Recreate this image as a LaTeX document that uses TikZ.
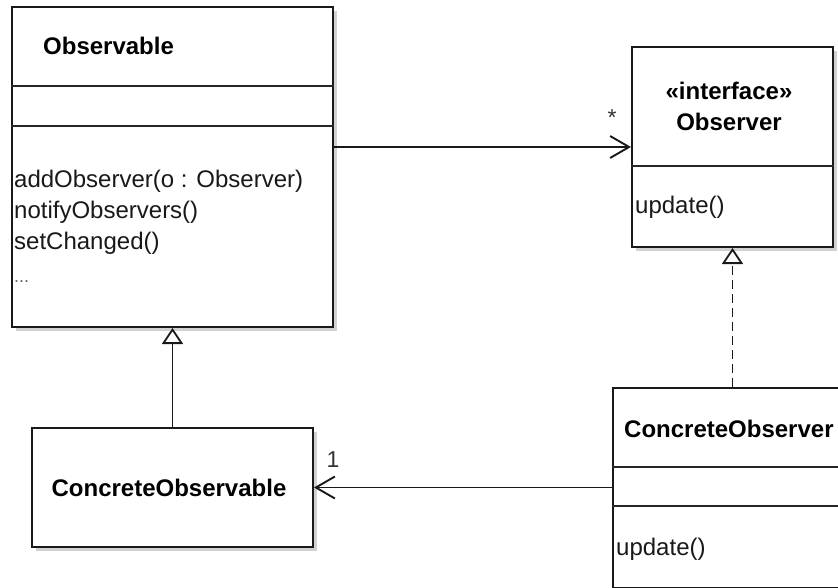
\documentclass[tikz,border=0pt]{standalone}
\usepackage{fontspec}
\setmainfont{Liberation Sans}
\usetikzlibrary{arrows.meta,shadows}
\begin{document}
\begin{tikzpicture}[x=1pt,y=-1pt,
  cls/.style={draw=black!90, line width=2pt, fill=white, inner sep=0pt, anchor=north west,
    drop shadow={shadow xshift=4pt, shadow yshift=-4pt, fill=black!18, opacity=1}},
  sep/.style={draw=black!85, line width=1.8pt},
  title/.style={font=\fontsize{24}{29}\selectfont\bfseries, text=black, inner sep=0pt},
  member/.style={font=\fontsize{24}{29}\selectfont, text=black!90, inner sep=0pt, anchor=base west},
  assoc/.style={draw=black!90, line width=1.9pt, -{Straight Barb[length=19pt,width=22pt,line width=1.9pt]}},
  gen/.style={draw=black!90, line width=1.8pt, -{Triangle[open,length=16pt,width=21pt,fill=white,line width=1.8pt]}},
  real/.style={gen, dash pattern=on 9pt off 5pt},
  mult/.style={font=\fontsize{23}{27}\selectfont, text=black!80, inner sep=0pt}
]
\clip (0,0) rectangle (838,588);
\useasboundingbox (0,0) rectangle (838,588);

% classes
\node[cls, minimum width=321pt, minimum height=320pt] (observable) at (11,6) {};
\node[cls, minimum width=201pt, minimum height=200pt] (observer) at (631,46) {};
\node[cls, minimum width=281pt, minimum height=119pt] (cobs) at (31,427) {};
\node[cls, minimum width=240pt, minimum height=200pt] (cobsr) at (612,387) {};

% compartments
\draw[sep] (observable.west |- 0,86) -- (observable.east |- 0,86);
\draw[sep] (observable.west |- 0,126) -- (observable.east |- 0,126);
\draw[sep] (observer.west |- 0,166) -- (observer.east |- 0,166);
\draw[sep] (cobsr.west |- 0,467) -- (cobsr.east |- 0,467);
\draw[sep] (cobsr.west |- 0,506) -- (cobsr.east |- 0,506);

% texts
\node[title, anchor=base west] (tobservable) at (43,55) {Observable};
\node[member] (m1) at (14,188) {addObserver(o : Observer)};
\node[member] (m2) at (14,219) {notifyObservers()};
\node[member] (m3) at (14,250) {setChanged()};
\node[member, font=\fontsize{18}{22}\selectfont, text=black!60] (m4) at (14,282) {...};

\node[title, anchor=base] (tstereo) at (729,100) {«interface»};
\node[title, anchor=base] (tobserver) at (729,131) {Observer};
\node[member] (m5) at (635,214) {update()};

\node[title, anchor=base] (tcobs) at (169,496) {ConcreteObservable};

\node[title, anchor=base west] (tcobsr) at (624,437) {ConcreteObserver};
\node[member] (m6) at (616,555) {update()};

% connectors
\draw[assoc] (observable.east |- observer.west) -- (observer.west);
\node[mult] (star) at (612,118) {*};
\draw[assoc] (cobsr.west |- cobs.east) -- (cobs.east);
\node[mult] (one) at (333,460) {1};
\draw[gen] (cobs.north) -- (observable.south);
\draw[real] (observer.south |- cobsr.north) -- (observer.south);
\end{tikzpicture}
\end{document}
